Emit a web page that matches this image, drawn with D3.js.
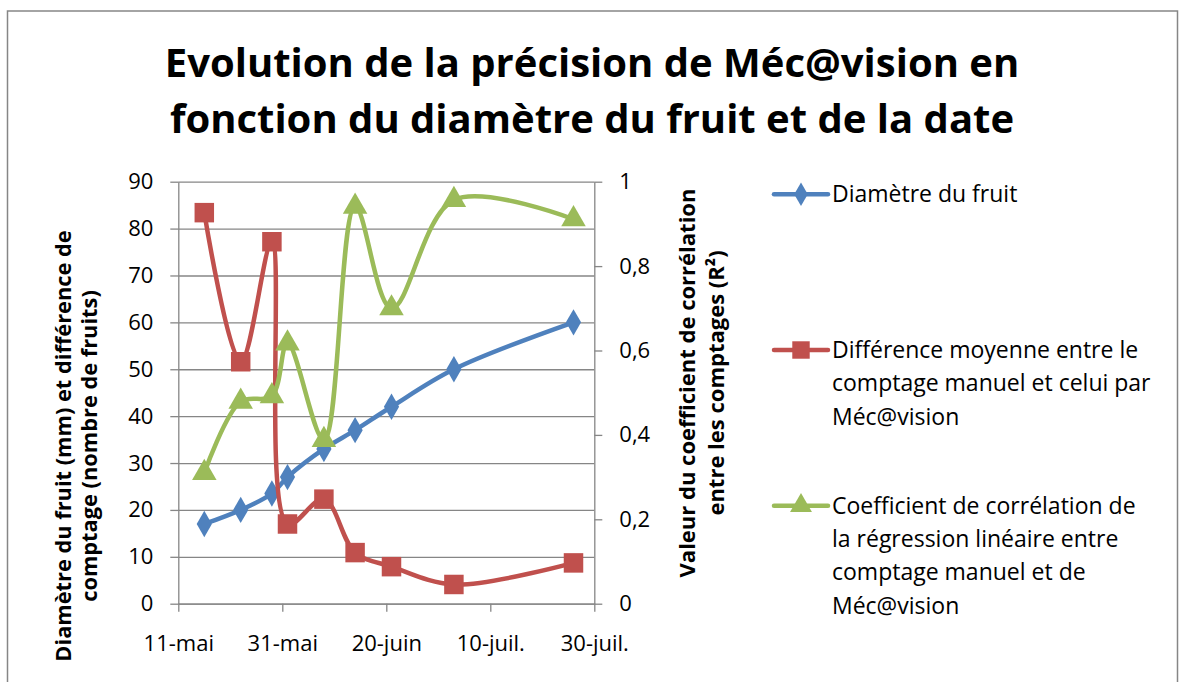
<!DOCTYPE html>
<html>
<head>
<meta charset="utf-8">
<script src="https://cdn.jsdelivr.net/npm/d3@7"></script>
<style>
  body { margin: 0; background: #fff; }
  text { font-family: "Open Sans", sans-serif; fill: #000; }
</style>
</head>
<body>
<div id="chart"></div>
<script>
// data
var dates = ["2011-05-16", "2011-05-23", "2011-05-29", "2011-06-01", "2011-06-08", "2011-06-14", "2011-06-21", "2011-07-03", "2011-07-26"];
var diametre = [17, 20, 23.5, 27, 33, 37, 42, 50, 60];
var difference = [83.4, 51.6, 77.2, 17, 22.3, 10.9, 7.9, 4.1, 8.7];
var correlation = [0.31, 0.479, 0.492, 0.617, 0.388, 0.941, 0.70, 0.957, 0.911];
var tickDates = ["2011-05-11", "2011-05-31", "2011-06-20", "2011-07-10", "2011-07-30"];
var leftTicks = [0, 10, 20, 30, 40, 50, 60, 70, 80, 90];
var rightTicks = [0, 0.2, 0.4, 0.6, 0.8, 1];
var titleLines = ["Evolution de la précision de Méc@vision en", "fonction du diamètre du fruit et de la date"];
var leftTitle = ["Diamètre du fruit (mm) et différence de", "comptage (nombre de fruits)"];
var rightTitle = ["Valeur du coefficient de corrélation", "entre les comptages (R²)"];
var seriesNames = [
    ["Diamètre du fruit"],
    ["Différence moyenne entre le", "comptage manuel et celui par", "Méc@vision"],
    ["Coefficient de corrélation de", "la régression linéaire entre", "comptage manuel et de", "Méc@vision"]
];

var W = 1179, H = 682;
var plot = {left: 178.3, right: 594.3, top: 181.7, bottom: 603.7};
var gray = "#868686";
var colors = ["#4F81BD", "#C0504D", "#9BBB59"];

var parse = d3.timeParse("%Y-%m-%d");
var fr = d3.timeFormatLocale({
    dateTime: "%A %e %B %Y à %X", date: "%d/%m/%Y", time: "%H:%M:%S",
    periods: ["AM", "PM"],
    days: ["dimanche", "lundi", "mardi", "mercredi", "jeudi", "vendredi", "samedi"],
    shortDays: ["dim.", "lun.", "mar.", "mer.", "jeu.", "ven.", "sam."],
    months: ["janvier", "février", "mars", "avril", "mai", "juin", "juillet", "août", "septembre", "octobre", "novembre", "décembre"],
    shortMonths: ["janv.", "févr.", "mars", "avr.", "mai", "juin", "juil.", "août", "sept.", "oct.", "nov.", "déc."]
});
var numFr = d3.formatLocale({decimal: ",", thousands: " ", grouping: [3], currency: ["", " €"]});

var x = d3.scaleTime()
    .domain([parse(tickDates[0]), parse(tickDates[tickDates.length - 1])])
    .range([plot.left, plot.right]);
var yLeft = d3.scaleLinear().domain([0, 90]).range([plot.bottom, plot.top]);
var yRight = d3.scaleLinear().domain([0, 1]).range([plot.bottom, plot.top]);

var svg = d3.select("#chart").append("svg")
    .attr("width", W)
    .attr("height", H);

// chart frame
svg.append("rect")
    .attr("x", 7.5).attr("y", 11)
    .attr("width", 1170).attr("height", 720)
    .attr("fill", "#fff")
    .attr("stroke", gray)
    .attr("stroke-width", 1.5);

// title
svg.append("g").selectAll("text")
    .data(titleLines)
    .enter().append("text")
    .attr("x", 592)
    .attr("y", function(d, i){ return 77 + i * 56; })
    .attr("text-anchor", "middle")
    .attr("font-size", 40)
    .attr("font-weight", "bold")
    .text(function(d){ return d; });

// gridlines
svg.append("g")
    .attr("transform", "translate(" + plot.left + ",0)")
    .call(d3.axisLeft(yLeft).tickValues(leftTicks).tickSize(-(plot.right - plot.left)).tickFormat(""))
    .call(function(g){ g.select(".domain").remove(); })
    .selectAll("line").attr("stroke", gray).attr("stroke-width", 1.3);

function styleAxis(g) {
    g.selectAll(".domain").attr("stroke", gray).attr("stroke-width", 1.3);
    g.selectAll(".tick line").attr("stroke", gray).attr("stroke-width", 1.3);
    g.selectAll(".tick text").attr("font-size", 22).attr("fill", "#000");
}

// left axis
svg.append("g")
    .attr("transform", "translate(" + plot.left + ",0)")
    .call(d3.axisLeft(yLeft).tickValues(leftTicks).tickSize(8).tickSizeOuter(0).tickPadding(17))
    .call(styleAxis);

// right axis
svg.append("g")
    .attr("transform", "translate(" + plot.right + ",0)")
    .call(d3.axisRight(yRight).tickValues(rightTicks).tickSize(8).tickSizeOuter(0).tickPadding(17)
        .tickFormat(numFr.format(".1~f")))
    .call(styleAxis);

// bottom axis
svg.append("g")
    .attr("transform", "translate(0," + plot.bottom + ")")
    .call(d3.axisBottom(x).tickValues(tickDates.map(parse)).tickSize(8).tickSizeOuter(0).tickPadding(24)
        .tickFormat(fr.format("%d-%b")))
    .call(styleAxis);

// axis titles
svg.append("g").selectAll("text")
    .data(leftTitle)
    .enter().append("text")
    .attr("transform", function(d, i){ return "translate(" + (71 + i * 26) + ",446) rotate(-90)"; })
    .attr("text-anchor", "middle")
    .attr("font-size", 21.8)
    .attr("font-weight", "bold")
    .text(function(d){ return d; });

svg.append("g").selectAll("text")
    .data(rightTitle)
    .enter().append("text")
    .attr("transform", function(d, i){ return "translate(" + (695 + i * 29) + ",383) rotate(-90)"; })
    .attr("text-anchor", "middle")
    .attr("font-size", 22)
    .attr("font-weight", "bold")
    .text(function(d){ return d; });

// series
var series = [
    {values: diametre, y: yLeft, shape: d3.symbolDiamond, size: 200},
    {values: difference, y: yLeft, shape: d3.symbolSquare, size: 380},
    {values: correlation, y: yRight, shape: d3.symbolTriangle, size: 260}
];

var line = d3.line().curve(d3.curveCatmullRom.alpha(0.5));

series.forEach(function(s, k) {
    var pts = s.values.map(function(v, i){ return [x(parse(dates[i])), s.y(v)]; });
    var g = svg.append("g");
    g.append("path")
        .attr("d", line(pts))
        .attr("fill", "none")
        .attr("stroke", colors[k])
        .attr("stroke-width", 4.5)
        .attr("stroke-linejoin", "round")
        .attr("stroke-linecap", "round");
    g.selectAll("path.mark")
        .data(pts)
        .enter().append("path")
        .attr("class", "mark")
        .attr("d", d3.symbol().type(s.shape).size(s.size))
        .attr("transform", function(p){ return "translate(" + p[0] + "," + p[1] + ")"; })
        .attr("fill", colors[k]);
});

// legend
var legendY = [194.3, 350, 505.7];
var legend = svg.append("g");
series.forEach(function(s, k) {
    var g = legend.append("g").attr("transform", "translate(0," + legendY[k] + ")");
    g.append("line")
        .attr("x1", 774).attr("x2", 828)
        .attr("stroke", colors[k])
        .attr("stroke-width", 4.5)
        .attr("stroke-linecap", "round");
    g.append("path")
        .attr("d", d3.symbol().type(s.shape).size(s.size * 0.8))
        .attr("transform", "translate(801,0)")
        .attr("fill", colors[k]);
    g.selectAll("text")
        .data(seriesNames[k])
        .enter().append("text")
        .attr("x", 832)
        .attr("y", function(d, i){ return i * 33.3 + 8; })
        .attr("font-size", 23)
        .text(function(d){ return d; });
});
</script>
</body>
</html>
